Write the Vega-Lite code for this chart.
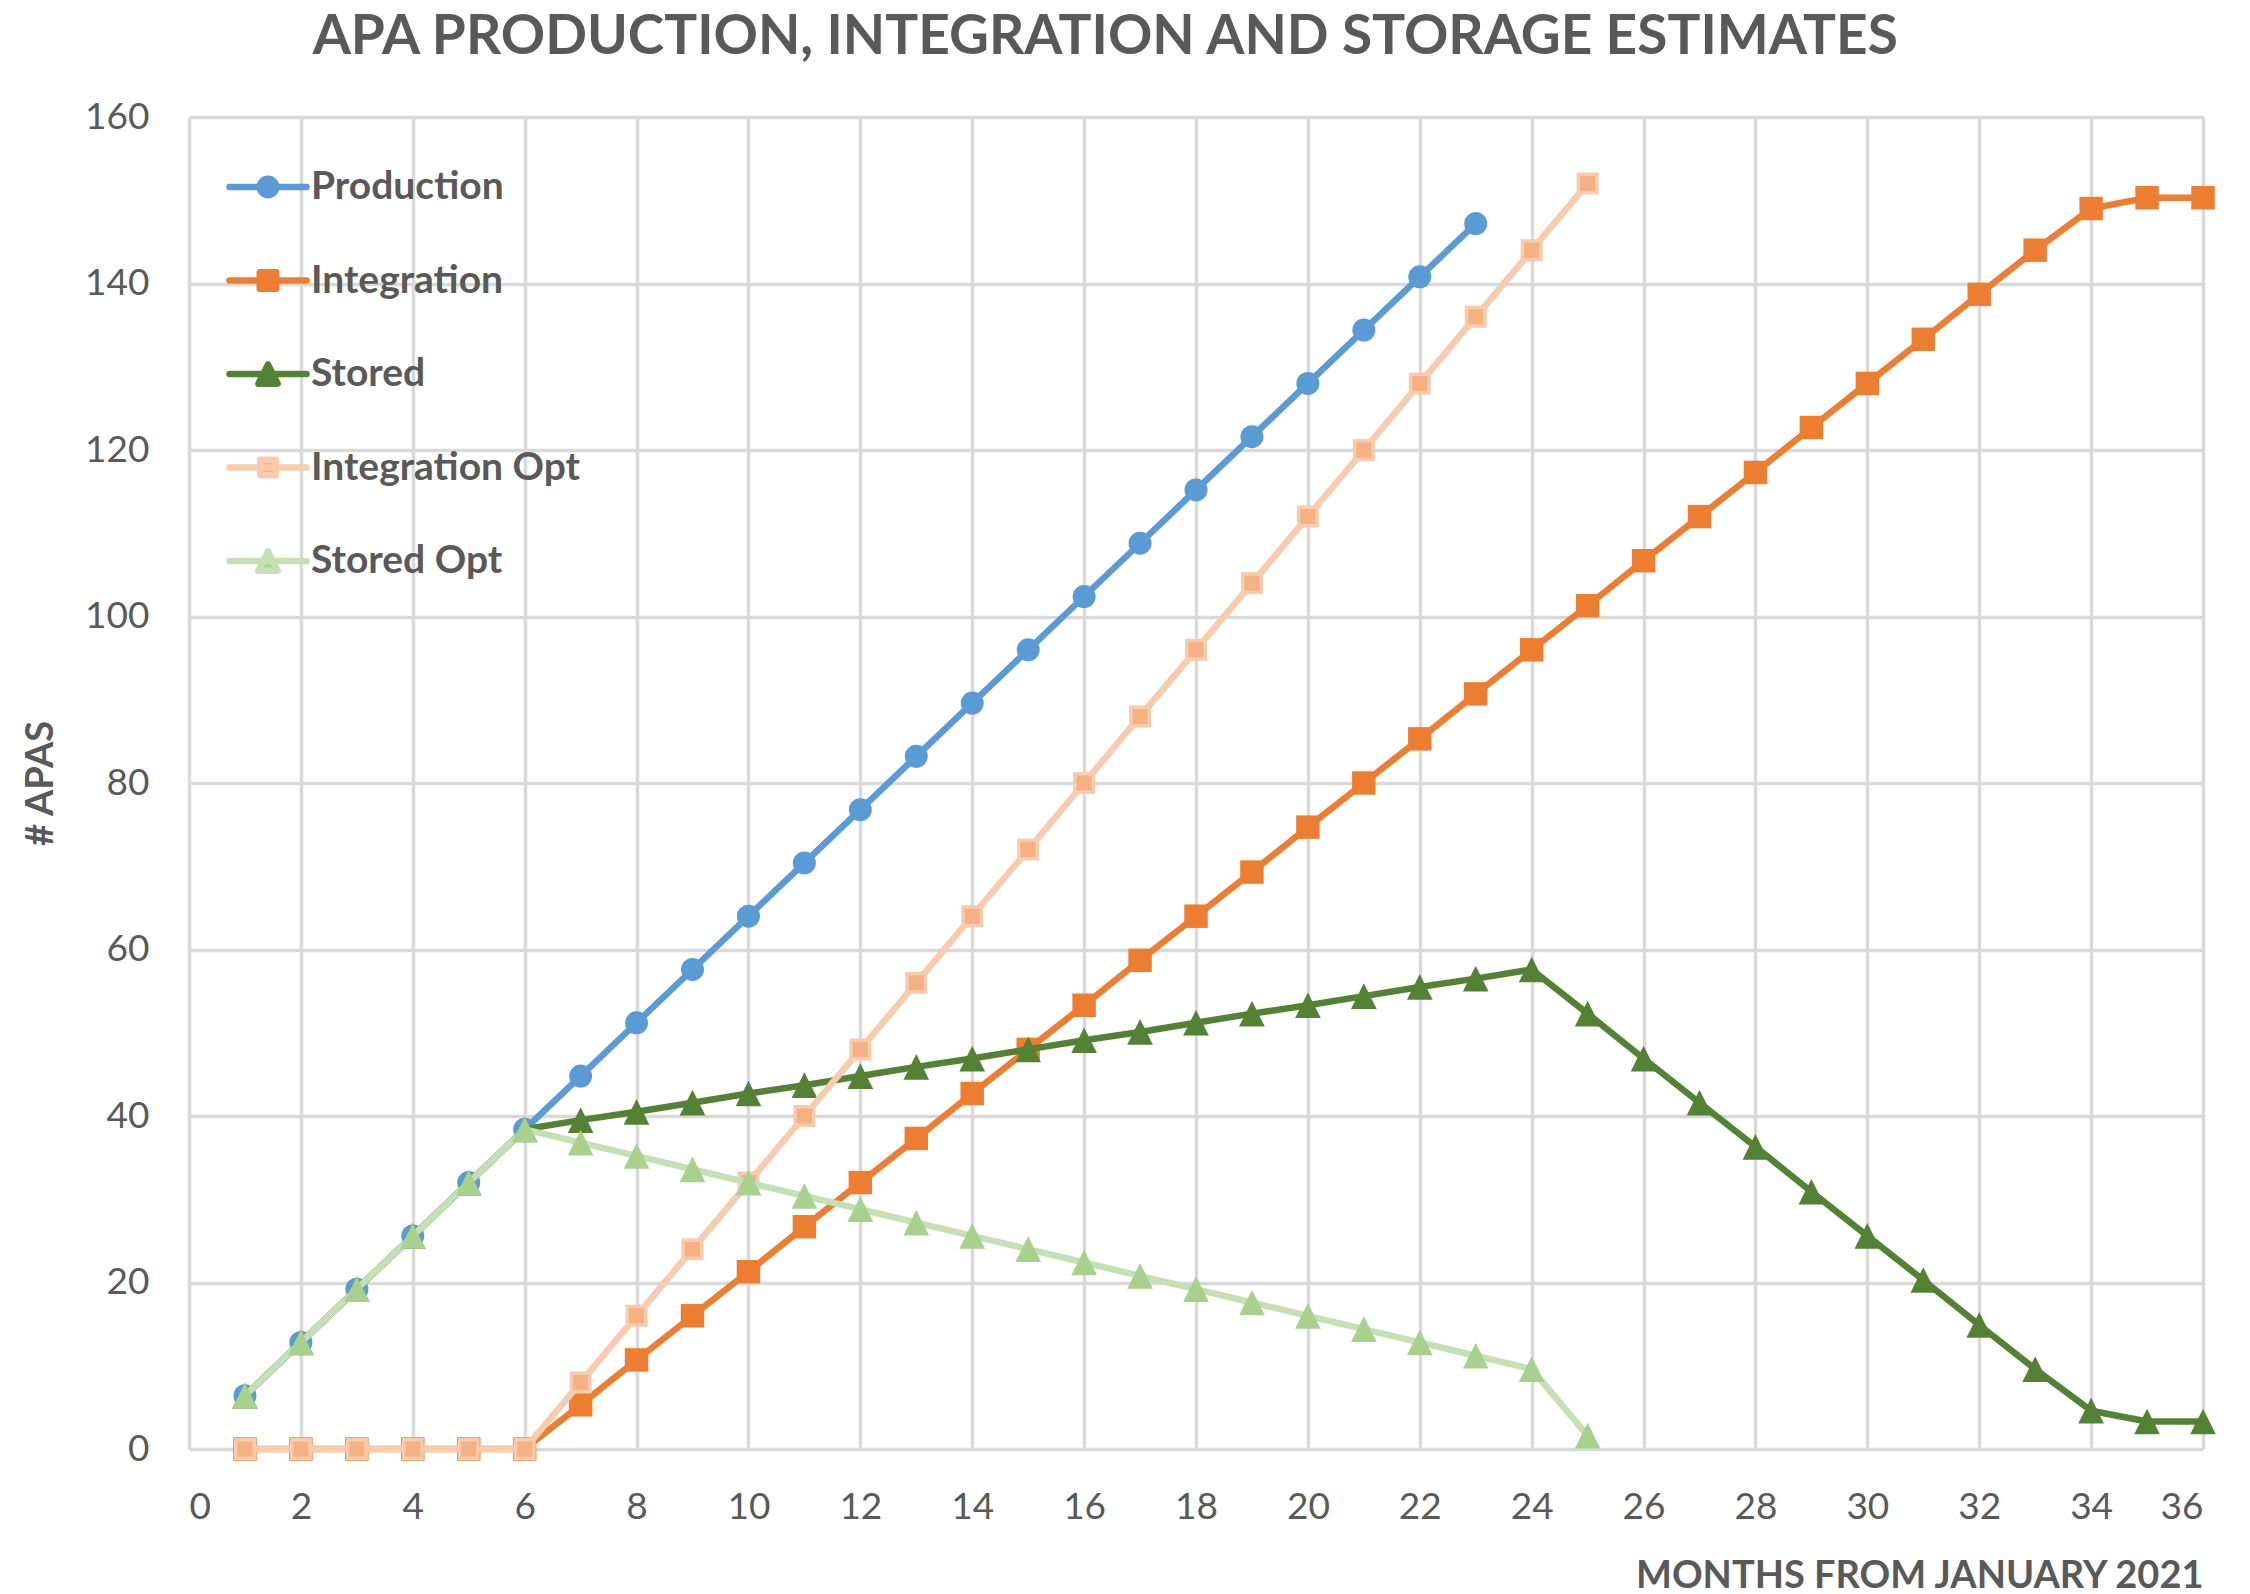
{
  "$schema": "https://vega.github.io/schema/vega-lite/v6.json",
  "width": 2014,
  "height": 1332,
  "autosize": {"type": "none"},
  "padding": {"left": 189, "top": 117, "right": 47, "bottom": 145},
  "background": "white",
  "title": {
    "text": "APA PRODUCTION, INTEGRATION AND STORAGE ESTIMATES",
    "font": "Lato",
    "fontSize": 55,
    "fontWeight": "bold",
    "color": "#595959",
    "anchor": "middle",
    "frame": "bounds",
    "dx": -14,
    "offset": 32
  },
  "datasets": {
    "apa": [
      {"month": 1, "series": "Production", "apas": 6.4},
      {"month": 2, "series": "Production", "apas": 12.8},
      {"month": 3, "series": "Production", "apas": 19.2},
      {"month": 4, "series": "Production", "apas": 25.6},
      {"month": 5, "series": "Production", "apas": 32.0},
      {"month": 6, "series": "Production", "apas": 38.4},
      {"month": 7, "series": "Production", "apas": 44.8},
      {"month": 8, "series": "Production", "apas": 51.2},
      {"month": 9, "series": "Production", "apas": 57.6},
      {"month": 10, "series": "Production", "apas": 64.0},
      {"month": 11, "series": "Production", "apas": 70.4},
      {"month": 12, "series": "Production", "apas": 76.8},
      {"month": 13, "series": "Production", "apas": 83.2},
      {"month": 14, "series": "Production", "apas": 89.6},
      {"month": 15, "series": "Production", "apas": 96.0},
      {"month": 16, "series": "Production", "apas": 102.4},
      {"month": 17, "series": "Production", "apas": 108.8},
      {"month": 18, "series": "Production", "apas": 115.2},
      {"month": 19, "series": "Production", "apas": 121.6},
      {"month": 20, "series": "Production", "apas": 128.0},
      {"month": 21, "series": "Production", "apas": 134.4},
      {"month": 22, "series": "Production", "apas": 140.8},
      {"month": 23, "series": "Production", "apas": 147.2},

      {"month": 1, "series": "Integration", "apas": 0},
      {"month": 2, "series": "Integration", "apas": 0},
      {"month": 3, "series": "Integration", "apas": 0},
      {"month": 4, "series": "Integration", "apas": 0},
      {"month": 5, "series": "Integration", "apas": 0},
      {"month": 6, "series": "Integration", "apas": 0},
      {"month": 7, "series": "Integration", "apas": 5.3},
      {"month": 8, "series": "Integration", "apas": 10.7},
      {"month": 9, "series": "Integration", "apas": 16.0},
      {"month": 10, "series": "Integration", "apas": 21.3},
      {"month": 11, "series": "Integration", "apas": 26.7},
      {"month": 12, "series": "Integration", "apas": 32.0},
      {"month": 13, "series": "Integration", "apas": 37.3},
      {"month": 14, "series": "Integration", "apas": 42.7},
      {"month": 15, "series": "Integration", "apas": 48.0},
      {"month": 16, "series": "Integration", "apas": 53.3},
      {"month": 17, "series": "Integration", "apas": 58.7},
      {"month": 18, "series": "Integration", "apas": 64.0},
      {"month": 19, "series": "Integration", "apas": 69.3},
      {"month": 20, "series": "Integration", "apas": 74.7},
      {"month": 21, "series": "Integration", "apas": 80.0},
      {"month": 22, "series": "Integration", "apas": 85.3},
      {"month": 23, "series": "Integration", "apas": 90.7},
      {"month": 24, "series": "Integration", "apas": 96.0},
      {"month": 25, "series": "Integration", "apas": 101.3},
      {"month": 26, "series": "Integration", "apas": 106.7},
      {"month": 27, "series": "Integration", "apas": 112.0},
      {"month": 28, "series": "Integration", "apas": 117.3},
      {"month": 29, "series": "Integration", "apas": 122.7},
      {"month": 30, "series": "Integration", "apas": 128.0},
      {"month": 31, "series": "Integration", "apas": 133.3},
      {"month": 32, "series": "Integration", "apas": 138.7},
      {"month": 33, "series": "Integration", "apas": 144.0},
      {"month": 34, "series": "Integration", "apas": 149.0},
      {"month": 35, "series": "Integration", "apas": 150.3},
      {"month": 36, "series": "Integration", "apas": 150.3},

      {"month": 1, "series": "Stored", "apas": 6.4},
      {"month": 2, "series": "Stored", "apas": 12.8},
      {"month": 3, "series": "Stored", "apas": 19.2},
      {"month": 4, "series": "Stored", "apas": 25.6},
      {"month": 5, "series": "Stored", "apas": 32.0},
      {"month": 6, "series": "Stored", "apas": 38.4},
      {"month": 7, "series": "Stored", "apas": 39.5},
      {"month": 8, "series": "Stored", "apas": 40.5},
      {"month": 9, "series": "Stored", "apas": 41.6},
      {"month": 10, "series": "Stored", "apas": 42.7},
      {"month": 11, "series": "Stored", "apas": 43.7},
      {"month": 12, "series": "Stored", "apas": 44.8},
      {"month": 13, "series": "Stored", "apas": 45.9},
      {"month": 14, "series": "Stored", "apas": 46.9},
      {"month": 15, "series": "Stored", "apas": 48.0},
      {"month": 16, "series": "Stored", "apas": 49.1},
      {"month": 17, "series": "Stored", "apas": 50.1},
      {"month": 18, "series": "Stored", "apas": 51.2},
      {"month": 19, "series": "Stored", "apas": 52.3},
      {"month": 20, "series": "Stored", "apas": 53.3},
      {"month": 21, "series": "Stored", "apas": 54.4},
      {"month": 22, "series": "Stored", "apas": 55.5},
      {"month": 23, "series": "Stored", "apas": 56.5},
      {"month": 24, "series": "Stored", "apas": 57.6},
      {"month": 25, "series": "Stored", "apas": 52.3},
      {"month": 26, "series": "Stored", "apas": 46.9},
      {"month": 27, "series": "Stored", "apas": 41.6},
      {"month": 28, "series": "Stored", "apas": 36.3},
      {"month": 29, "series": "Stored", "apas": 30.9},
      {"month": 30, "series": "Stored", "apas": 25.6},
      {"month": 31, "series": "Stored", "apas": 20.3},
      {"month": 32, "series": "Stored", "apas": 14.9},
      {"month": 33, "series": "Stored", "apas": 9.6},
      {"month": 34, "series": "Stored", "apas": 4.6},
      {"month": 35, "series": "Stored", "apas": 3.3},
      {"month": 36, "series": "Stored", "apas": 3.3},

      {"month": 1, "series": "Integration Opt", "apas": 0},
      {"month": 2, "series": "Integration Opt", "apas": 0},
      {"month": 3, "series": "Integration Opt", "apas": 0},
      {"month": 4, "series": "Integration Opt", "apas": 0},
      {"month": 5, "series": "Integration Opt", "apas": 0},
      {"month": 6, "series": "Integration Opt", "apas": 0},
      {"month": 7, "series": "Integration Opt", "apas": 8},
      {"month": 8, "series": "Integration Opt", "apas": 16},
      {"month": 9, "series": "Integration Opt", "apas": 24},
      {"month": 10, "series": "Integration Opt", "apas": 32},
      {"month": 11, "series": "Integration Opt", "apas": 40},
      {"month": 12, "series": "Integration Opt", "apas": 48},
      {"month": 13, "series": "Integration Opt", "apas": 56},
      {"month": 14, "series": "Integration Opt", "apas": 64},
      {"month": 15, "series": "Integration Opt", "apas": 72},
      {"month": 16, "series": "Integration Opt", "apas": 80},
      {"month": 17, "series": "Integration Opt", "apas": 88},
      {"month": 18, "series": "Integration Opt", "apas": 96},
      {"month": 19, "series": "Integration Opt", "apas": 104},
      {"month": 20, "series": "Integration Opt", "apas": 112},
      {"month": 21, "series": "Integration Opt", "apas": 120},
      {"month": 22, "series": "Integration Opt", "apas": 128},
      {"month": 23, "series": "Integration Opt", "apas": 136},
      {"month": 24, "series": "Integration Opt", "apas": 144},
      {"month": 25, "series": "Integration Opt", "apas": 152},

      {"month": 1, "series": "Stored Opt", "apas": 6.4},
      {"month": 2, "series": "Stored Opt", "apas": 12.8},
      {"month": 3, "series": "Stored Opt", "apas": 19.2},
      {"month": 4, "series": "Stored Opt", "apas": 25.6},
      {"month": 5, "series": "Stored Opt", "apas": 32.0},
      {"month": 6, "series": "Stored Opt", "apas": 38.4},
      {"month": 7, "series": "Stored Opt", "apas": 36.8},
      {"month": 8, "series": "Stored Opt", "apas": 35.2},
      {"month": 9, "series": "Stored Opt", "apas": 33.6},
      {"month": 10, "series": "Stored Opt", "apas": 32.0},
      {"month": 11, "series": "Stored Opt", "apas": 30.4},
      {"month": 12, "series": "Stored Opt", "apas": 28.8},
      {"month": 13, "series": "Stored Opt", "apas": 27.2},
      {"month": 14, "series": "Stored Opt", "apas": 25.6},
      {"month": 15, "series": "Stored Opt", "apas": 24.0},
      {"month": 16, "series": "Stored Opt", "apas": 22.4},
      {"month": 17, "series": "Stored Opt", "apas": 20.8},
      {"month": 18, "series": "Stored Opt", "apas": 19.2},
      {"month": 19, "series": "Stored Opt", "apas": 17.6},
      {"month": 20, "series": "Stored Opt", "apas": 16.0},
      {"month": 21, "series": "Stored Opt", "apas": 14.4},
      {"month": 22, "series": "Stored Opt", "apas": 12.8},
      {"month": 23, "series": "Stored Opt", "apas": 11.2},
      {"month": 24, "series": "Stored Opt", "apas": 9.6},
      {"month": 25, "series": "Stored Opt", "apas": 1.6}
    ]
  },
  "data": {"name": "apa"},
  "encoding": {
    "x": {
      "field": "month",
      "type": "quantitative",
      "scale": {"domain": [0, 36], "nice": false, "zero": true},
      "axis": {
        "title": "MONTHS FROM JANUARY 2021",
        "values": [0, 2, 4, 6, 8, 10, 12, 14, 16, 18, 20, 22, 24, 26, 28, 30, 32, 34, 36],
        "labelPadding": 40,
        "titleAnchor": "end",
        "titleFontSize": 38,
        "titlePadding": 32
      }
    },
    "y": {
      "field": "apas",
      "type": "quantitative",
      "scale": {"domain": [0, 160], "nice": false},
      "axis": {
        "title": "# APAS",
        "values": [0, 20, 40, 60, 80, 100, 120, 140, 160],
        "labelPadding": 40,
        "titleFontSize": 38,
        "titlePadding": 24
      }
    }
  },
  "layer": [
    {
      "transform": [{"filter": "datum.series === 'Production'"}],
      "mark": {"type": "line", "strokeWidth": 6.5, "strokeJoin": "round", "strokeCap": "round"},
      "encoding": {
        "color": {
          "field": "series", "type": "nominal",
          "scale": {"domain": ["Production", "Integration", "Stored", "Integration Opt", "Stored Opt"], "range": ["#5B9BD5", "#ED7D31", "#548235", "#F8CBAD", "#C5E0B4"]},
          "legend": {
            "encode": {
              "symbols": {
                "update": {
                  "shape": {"signal": "datum.value === 'Production' ? 'M-1,0H1M-0.214,0A0.214,0.214,0,1,1,0.214,0A0.214,0.214,0,1,1,-0.214,0Z' : (datum.value === 'Stored' || datum.value === 'Stored Opt') ? 'M-1,0H1M0,-0.25L0.25,0.25L-0.25,0.25Z' : datum.value === 'Integration Opt' ? 'M-1,0H1M-0.2,-0.2H0.2V0.2H-0.2Z' : 'M-1,0H1M-0.214,-0.214H0.214V0.214H-0.214Z'"},
                  "fill": {"signal": "datum.value === 'Integration Opt' ? '#F4B183' : datum.value === 'Stored Opt' ? '#A9D18E' : scale('color', datum.value)"},
                  "stroke": {"signal": "scale('color', datum.value)"},
                  "strokeWidth": {"value": 6.5},
                  "strokeJoin": {"value": "round"},
                  "strokeCap": {"value": "round"},
                  "size": {"value": 5929},
                  "opacity": {"value": 1},
                  "fillOpacity": {"value": 1},
                  "strokeOpacity": {"value": 1}
                }
              }
            }
          }
        }
      }
    },
    {
      "transform": [{"filter": "datum.series === 'Production'"}],
      "mark": {"type": "point", "shape": "circle", "filled": true, "size": 529, "fill": "#5B9BD5", "opacity": 1, "strokeWidth": 0}
    },
    {
      "transform": [{"filter": "datum.series === 'Integration'"}],
      "mark": {"type": "line", "strokeWidth": 6.5, "strokeJoin": "round", "strokeCap": "round"},
      "encoding": {
        "color": {
          "field": "series", "type": "nominal",
          "scale": {"domain": ["Production", "Integration", "Stored", "Integration Opt", "Stored Opt"], "range": ["#5B9BD5", "#ED7D31", "#548235", "#F8CBAD", "#C5E0B4"]}
        }
      }
    },
    {
      "transform": [{"filter": "datum.series === 'Integration'"}],
      "mark": {"type": "point", "shape": "square", "filled": true, "size": 550, "fill": "#ED7D31", "opacity": 1, "strokeWidth": 0}
    },
    {
      "transform": [{"filter": "datum.series === 'Stored'"}],
      "mark": {"type": "line", "strokeWidth": 6.5, "strokeJoin": "round", "strokeCap": "round"},
      "encoding": {
        "color": {
          "field": "series", "type": "nominal",
          "scale": {"domain": ["Production", "Integration", "Stored", "Integration Opt", "Stored Opt"], "range": ["#5B9BD5", "#ED7D31", "#548235", "#F8CBAD", "#C5E0B4"]}
        }
      }
    },
    {
      "transform": [{"filter": "datum.series === 'Stored'"}],
      "mark": {"type": "point", "shape": "M0,-1L1,1L-1,1Z", "filled": true, "size": 660, "fill": "#548235", "opacity": 1, "strokeWidth": 0}
    },
    {
      "transform": [{"filter": "datum.series === 'Integration Opt'"}],
      "mark": {"type": "line", "strokeWidth": 6.5, "strokeJoin": "round", "strokeCap": "round"},
      "encoding": {
        "color": {
          "field": "series", "type": "nominal",
          "scale": {"domain": ["Production", "Integration", "Stored", "Integration Opt", "Stored Opt"], "range": ["#5B9BD5", "#ED7D31", "#548235", "#F8CBAD", "#C5E0B4"]}
        }
      }
    },
    {
      "transform": [{"filter": "datum.series === 'Integration Opt'"}],
      "mark": {"type": "point", "shape": "square", "filled": true, "size": 342, "fill": "#F4B183", "stroke": "#F8CBAD", "strokeWidth": 3.5, "opacity": 1}
    },
    {
      "transform": [{"filter": "datum.series === 'Stored Opt'"}],
      "mark": {"type": "line", "strokeWidth": 6.5, "strokeJoin": "round", "strokeCap": "round"},
      "encoding": {
        "color": {
          "field": "series", "type": "nominal",
          "scale": {"domain": ["Production", "Integration", "Stored", "Integration Opt", "Stored Opt"], "range": ["#5B9BD5", "#ED7D31", "#548235", "#F8CBAD", "#C5E0B4"]}
        }
      }
    },
    {
      "transform": [{"filter": "datum.series === 'Stored Opt'"}],
      "mark": {"type": "point", "shape": "M0,-1L1,1L-1,1Z", "filled": true, "size": 660, "fill": "#A9D18E", "opacity": 1, "strokeWidth": 0}
    }
  ],
  "config": {
    "view": {"stroke": null},
    "axis": {
      "grid": true,
      "gridColor": "#D9D9D9",
      "gridWidth": 3.5,
      "domain": false,
      "ticks": false,
      "labelFont": "Lato",
      "labelFontSize": 37,
      "labelColor": "#595959",
      "titleFont": "Lato",
      "titleFontWeight": "bold",
      "titleColor": "#595959"
    },
    "legend": {
      "title": null,
      "orient": "none",
      "legendX": 37,
      "legendY": 28,
      "padding": 0,
      "symbolSize": 5929,
      "symbolStrokeWidth": 6.5,
      "rowPadding": 31.5,
      "labelOffset": 1,
      "labelFont": "Lato",
      "labelFontSize": 39,
      "labelFontWeight": "bold",
      "labelColor": "#595959",
      "labelLimit": 0
    }
  }
}
